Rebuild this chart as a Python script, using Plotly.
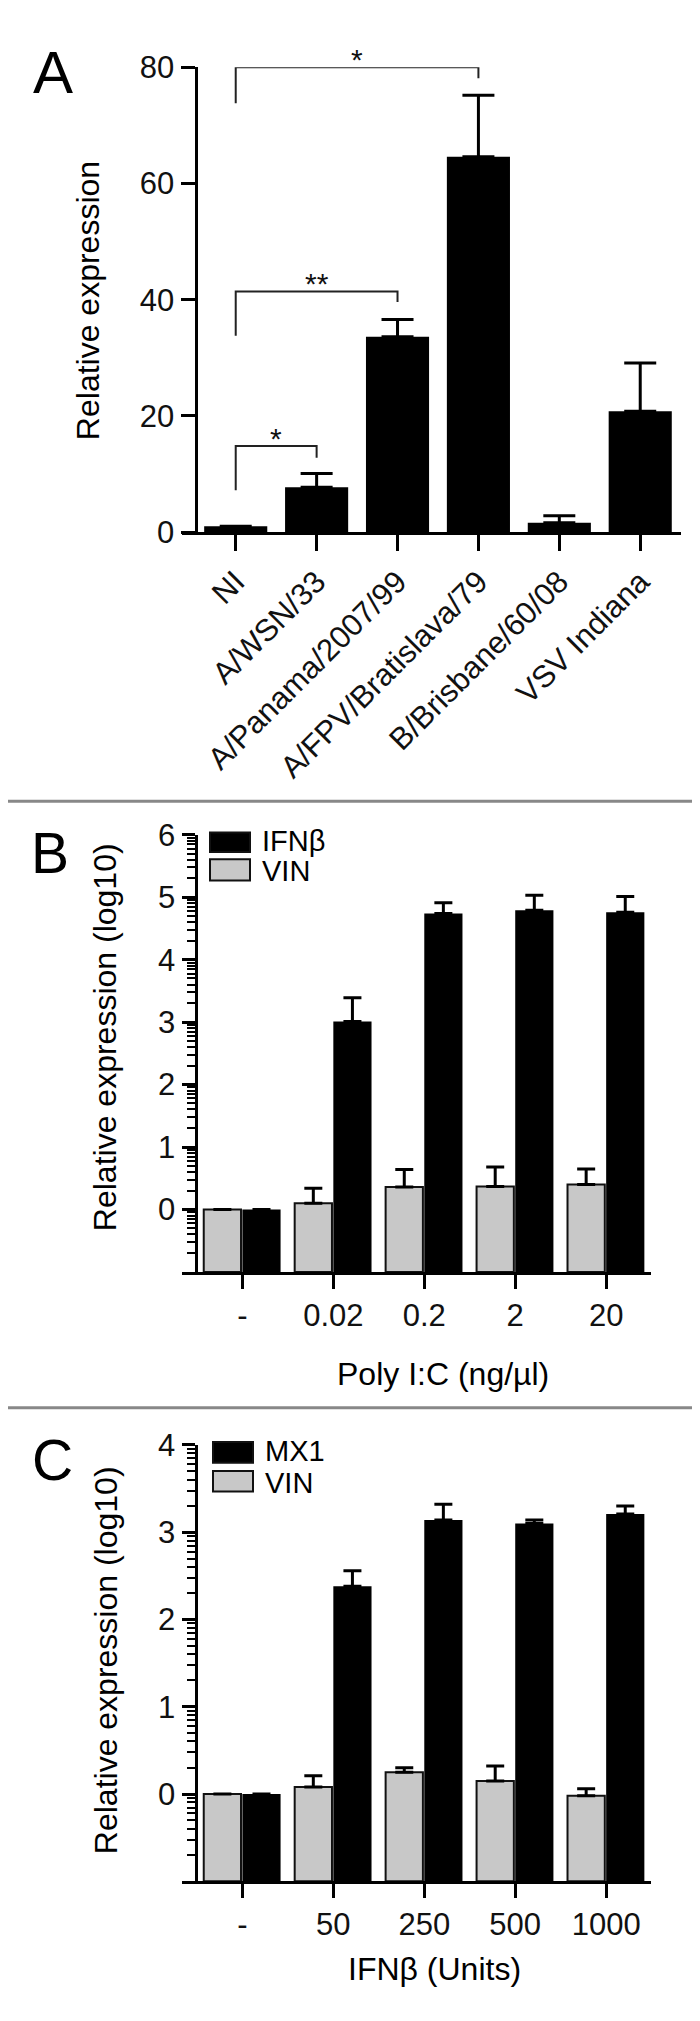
import math
import plotly.graph_objects as go

W, H = 700, 2021
FONT = "Liberation Sans, Arial, Helvetica, sans-serif"

# ---------------- Data ----------------
# Panel A
viruses = ["NI", "A/WSN/33", "A/Panama/2007/99", "A/FPV/Bratislava/79",
           "B/Brisbane/60/08", "VSV Indiana"]
expr_A = [1.0, 7.7, 33.6, 64.6, 1.6, 20.8]
err_A = [0.0, 2.4, 3.0, 10.6, 1.2, 8.3]
sig_left = ["NI", "NI", "NI"]
sig_right = ["A/WSN/33", "A/Panama/2007/99", "A/FPV/Bratislava/79"]
sig_top = [14.8, 41.4, 80.0]
sig_left_end = [7.2, 33.8, 73.8]
sig_right_end = [12.8, 39.6, 78.1]
sig_labels = ["*", "**", "*"]

# Panel B (log10 relative expression)
polyic_doses = ["-", "0.02", "0.2", "2", "20"]
ifnb_B = [0.0, 3.01, 4.74, 4.79, 4.76]
ifnb_B_err = [0.0, 0.38, 0.17, 0.24, 0.25]
vin_B = [0.0, 0.10, 0.36, 0.37, 0.40]
vin_B_err = [0.0, 0.24, 0.28, 0.31, 0.25]

# Panel C (log10 relative expression)
ifn_units = ["-", "50", "250", "500", "1000"]
mx1_C = [0.0, 2.38, 3.14, 3.10, 3.21]
mx1_C_err = [0.0, 0.18, 0.18, 0.04, 0.09]
vin_C = [0.0, 0.08, 0.25, 0.15, -0.02]
vin_C_err = [0.0, 0.13, 0.05, 0.17, 0.08]

LOG_BASE = -1  # bars in log panels start at the axis floor


def fx(px):
    return px / W


def fy(py):
    return 1 - py / H


GREY = "#c8c8c8"
TICK_FONT = dict(family=FONT, size=31, color="#111")

fig = go.Figure()

# ---------- Panel A ----------
fig.add_trace(go.Bar(
    x=viruses, y=expr_A, width=0.78,
    marker=dict(color="#000", line=dict(width=0)),
    error_y=dict(type="data", symmetric=False, array=err_A,
                 arrayminus=[0] * len(err_A), color="#000", thickness=3, width=16),
    xaxis="x", yaxis="y", showlegend=False))

for i in range(len(sig_labels)):
    fig.add_trace(go.Scatter(
        x=[sig_left[i], sig_left[i], sig_right[i], sig_right[i]],
        y=[sig_left_end[i], sig_top[i], sig_top[i], sig_right_end[i]],
        mode="lines", line=dict(color="#222", width=2),
        xaxis="x", yaxis="y", showlegend=False, hoverinfo="skip"))
    mid = (viruses.index(sig_left[i]) + viruses.index(sig_right[i])) / 2
    fig.add_annotation(x=mid, y=sig_top[i], xref="x", yref="y", text=sig_labels[i],
                       showarrow=False, yanchor="middle", yshift=8,
                       font=dict(family=FONT, size=30, color="#111"))

# ---------- Panel B ----------
fig.add_trace(go.Bar(
    x=polyic_doses, y=[v - LOG_BASE for v in vin_B], base=LOG_BASE,
    offset=-0.425, width=0.41, name="VIN",
    marker=dict(color=GREY, line=dict(color="#111", width=2)),
    error_y=dict(type="data", symmetric=False, array=vin_B_err,
                 arrayminus=[0] * 5, color="#000", thickness=3, width=9),
    xaxis="x2", yaxis="y2", showlegend=False))
fig.add_trace(go.Bar(
    x=polyic_doses, y=[v - LOG_BASE for v in ifnb_B], base=LOG_BASE,
    offset=0.0, width=0.42, name="IFNβ",
    marker=dict(color="#000", line=dict(width=0)),
    error_y=dict(type="data", symmetric=False, array=ifnb_B_err,
                 arrayminus=[0] * 5, color="#000", thickness=3, width=9),
    xaxis="x2", yaxis="y2", showlegend=False))

# ---------- Panel C ----------
fig.add_trace(go.Bar(
    x=ifn_units, y=[v - LOG_BASE for v in vin_C], base=LOG_BASE,
    offset=-0.425, width=0.41, name="VIN",
    marker=dict(color=GREY, line=dict(color="#111", width=2)),
    error_y=dict(type="data", symmetric=False, array=vin_C_err,
                 arrayminus=[0] * 5, color="#000", thickness=3, width=9),
    xaxis="x3", yaxis="y3", showlegend=False))
fig.add_trace(go.Bar(
    x=ifn_units, y=[v - LOG_BASE for v in mx1_C], base=LOG_BASE,
    offset=0.0, width=0.42, name="MX1",
    marker=dict(color="#000", line=dict(width=0)),
    error_y=dict(type="data", symmetric=False, array=mx1_C_err,
                 arrayminus=[0] * 5, color="#000", thickness=3, width=9),
    xaxis="x3", yaxis="y3", showlegend=False))

# ---------- Axes ----------
axis_common = dict(showgrid=False, zeroline=False, showline=True, linecolor="#000",
                   linewidth=3, ticks="outside", tickcolor="#000", tickwidth=3,
                   tickfont=TICK_FONT)


def log_minor(lo, hi):
    return [n + math.log10(k) for n in range(lo, hi) for k in range(2, 10)]


fig.update_layout(
    xaxis=dict(axis_common, domain=[fx(174), fx(673)], anchor="y", type="category",
               range=[-0.664, 5.504], ticklen=16, tickangle=-45),
    yaxis=dict(axis_common, domain=[fy(516), fy(43)], anchor="free", position=fx(187.5),
               range=[0, 80], tickvals=[0, 20, 40, 60, 80], ticklen=14),
    xaxis2=dict(axis_common, domain=[fx(174), fx(643)], anchor="y2", type="category",
                range=[-0.664, 4.493], ticklen=14),
    yaxis2=dict(axis_common, domain=[fy(1269), fy(824)], anchor="free", position=fx(187.5),
                range=[-1, 6], tickvals=list(range(0, 7)), ticklen=13,
                minor=dict(tickvals=log_minor(-1, 6), ticks="outside", ticklen=8,
                           tickwidth=2, tickcolor="#000")),
    xaxis3=dict(axis_common, domain=[fx(174), fx(643)], anchor="y3", type="category",
                range=[-0.664, 4.493], ticklen=14),
    yaxis3=dict(axis_common, domain=[fy(1889), fy(1445)], anchor="free", position=fx(187.5),
                range=[-1, 4], tickvals=list(range(0, 5)), ticklen=13,
                minor=dict(tickvals=log_minor(-1, 4), ticks="outside", ticklen=8,
                           tickwidth=2, tickcolor="#000")),
)


# ---------- Titles, panel letters ----------
def ann(text, x, y, size, angle=0, xanchor="center"):
    fig.add_annotation(text=text, x=fx(x), y=fy(y), xref="paper", yref="paper",
                       showarrow=False, textangle=angle, xanchor=xanchor, yanchor="middle",
                       font=dict(family=FONT, size=size, color="#000"))


ann("A", 45, 48, 60)
ann("B", 42, 843, 57)
ann("C", 45, 1460, 57)
ann("Relative expression", 80, 281, 32, angle=-90)
ann("Relative expression (log10)", 97, 1030, 32, angle=-90)
ann("Relative expression (log10)", 98, 1664, 32, angle=-90)
ann("Poly I:C (ng/µl)", 435, 1373, 32)
ann("IFNβ (Units)", 426, 1978, 32)

# ---------- Legends (swatches + labels) ----------
legend_B = [("IFNβ", "#000", 821.7, 841.7, -1.5), ("VIN", GREY, 849, 870.7, 1.5)]
legend_C = [("MX1", "#000", 1442, 1463, -1.5), ("VIN", GREY, 1471.5, 1492.3, 1.5)]
for items, x0 in ((legend_B, 202), (legend_C, 205)):
    for label, col, y0, y1, dy in items:
        fig.add_shape(type="rect", xref="paper", yref="paper",
                      x0=fx(x0), x1=fx(x0 + 40), y0=fy(y1), y1=fy(y0),
                      fillcolor=col, line=dict(color="#111", width=2))
        ann(label, x0 + 50, (y0 + y1) / 2 + dy, 29, xanchor="left")

# ---------- Separator lines ----------
for yy in (790, 1407):
    fig.add_shape(type="line", xref="paper", yref="paper", x0=0, x1=1,
                  y0=fy(yy), y1=fy(yy), line=dict(color="#888", width=3))

fig.update_layout(width=W, height=H, margin=dict(l=0, r=0, t=0, b=0),
                  paper_bgcolor="white", plot_bgcolor="white",
                  font=dict(family=FONT), barmode="overlay")

fig.write_html("out.html")
